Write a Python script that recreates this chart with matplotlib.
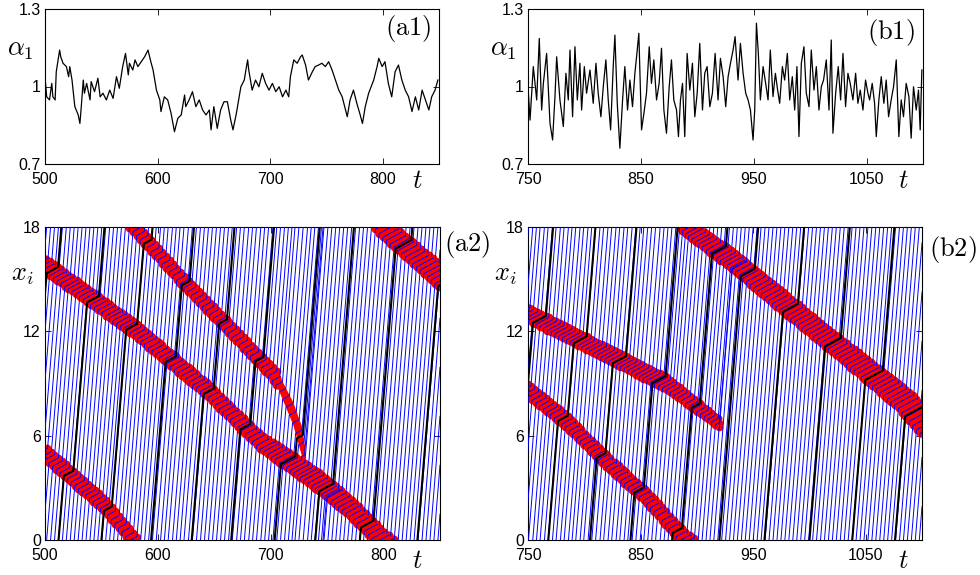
import numpy as np
import matplotlib
matplotlib.use("Agg")
import matplotlib.pyplot as plt

plt.rcParams['font.family'] = ['Liberation Sans', 'DejaVu Sans']
plt.rcParams['mathtext.fontset'] = 'cm'

# ---------------- data ----------------
a1_t = [500, 501.5, 504, 506, 507, 509, 510, 513, 514, 516,
        519, 521, 522, 524, 526.5, 529.5, 531, 532, 534, 535,
        537, 540, 541, 544, 547, 549, 551.5, 554.5, 557.5, 560.5,
        563.5, 566, 569, 571.5, 574, 575, 578, 580, 582.5, 585.5,
        588.5, 591.5, 594, 596, 599, 602, 603, 606, 609, 612,
        615, 618, 621, 624, 625, 628, 631, 634, 637, 640,
        643, 646, 647.5, 650, 653, 656, 659, 662, 665, 667,
        670, 672.5, 674, 677, 680, 681, 684, 687, 690, 693,
        696, 699, 702, 705, 708, 711, 714, 716.5, 718, 721,
        724, 727, 728.5, 731.5, 734, 737.5, 740, 743, 746, 749,
        752, 755, 758, 761, 764, 768.5, 771, 774, 777, 780,
        782, 784.5, 787.5, 792, 795, 796.5, 799.5, 802, 805, 808,
        811, 814, 817, 820, 823, 826, 829, 832, 835, 838,
        841, 843.5, 846.5, 849]
a1_alpha = [1.038, 0.96, 0.948, 1.012, 0.96, 0.948, 1.057, 1.141, 1.115, 1.09,
            1.077, 1.038, 1.077, 1.025, 0.922, 0.89, 0.857, 0.909, 1.025, 0.974,
            1.012, 0.948, 1.019, 0.98, 1.032, 0.96, 0.974, 0.948, 0.986, 0.954,
            1.038, 0.993, 1.077, 1.128, 1.045, 1.09, 1.064, 1.103, 1.077, 1.096,
            1.115, 1.141, 1.096, 1.064, 0.986, 0.948, 0.903, 0.96, 0.948, 0.896,
            0.825, 0.877, 0.89, 0.967, 0.922, 0.948, 0.98, 0.922, 0.948, 0.909,
            0.89, 0.909, 0.832, 0.922, 0.838, 0.909, 0.941, 0.941, 0.87, 0.832,
            0.896, 0.96, 0.999, 1.025, 1.103, 1.064, 0.986, 1.025, 0.999, 1.051,
            1.012, 0.986, 1.012, 0.98, 0.999, 0.96, 0.986, 0.96, 1.038, 1.103,
            1.09, 1.115, 1.122, 1.083, 1.025, 1.057, 1.077, 1.083, 1.09, 1.077,
            1.096, 1.064, 1.025, 0.986, 0.96, 0.883, 0.948, 0.986, 0.935, 0.89,
            0.857, 0.922, 0.974, 1.025, 1.077, 1.109, 1.077, 1.096, 1.012, 0.96,
            1.057, 1.083, 1.025, 0.986, 0.96, 0.903, 0.96, 0.909, 0.986, 0.948,
            0.909, 0.96, 0.986, 1.025]

b1_t = [750.0, 751.8, 754.7, 757.7, 760.0, 762.1, 763.6, 766.5, 769.5, 771.8,
        773.9, 775.4, 778.3, 781.3, 783.6, 785.7, 787.2, 789.5, 791.6, 793.7,
        796.0, 797.5, 799.9, 801.9, 804.9, 807.8, 810.2, 812.2, 814.6, 816.7,
        819.0, 821.1, 823.2, 825.5, 827.0, 829.1, 831.4, 833.8, 835.8, 838.2,
        840.3, 842.6, 844.7, 846.2, 848.2, 850.6, 852.7, 855.0, 857.4, 859.4,
        861.5, 863.9, 866.2, 868.3, 870.4, 872.7, 875.1, 877.1, 879.2, 881.6,
        883.3, 885.1, 886.9, 888.9, 891.0, 893.4, 895.7, 897.8, 899.9, 902.2,
        904.6, 906.6, 908.7, 911.1, 913.4, 915.8, 918.4, 920.5, 922.9, 925.2,
        927.3, 929.4, 931.7, 933.5, 936.1, 938.2, 940.6, 942.9, 945.0, 947.1,
        949.4, 950.9, 952.4, 954.1, 955.9, 958.3, 960.6, 962.7, 964.7, 967.1,
        969.2, 971.2, 973.0, 975.4, 977.4, 979.8, 981.9, 984.2, 986.3, 988.3,
        990.1, 992.2, 994.5, 996.6, 999.0, 1001.0, 1003.4, 1005.5, 1007.8, 1009.9,
        1011.9, 1014.3, 1016.7, 1018.7, 1020.2, 1022.6, 1024.9, 1027.0, 1029.1, 1031.4,
        1033.5, 1035.5, 1037.9, 1040.3, 1042.3, 1044.4, 1046.8, 1049.1, 1051.2, 1052.7,
        1055.0, 1057.1, 1058.6, 1060.9, 1063.0, 1065.3, 1067.4, 1069.5, 1071.8, 1073.9,
        1076.3, 1078.6, 1080.7, 1082.7, 1085.1, 1087.5, 1089.5, 1091.6, 1094.0, 1096.0,
        1097.5, 1099.0]
b1_alpha = [0.999, 0.87, 1.077, 0.948, 1.186, 0.909, 1.012, 1.128, 0.857, 0.793,
            0.961, 1.115, 0.948, 0.845, 1.051, 0.948, 1.141, 0.883, 1.154, 0.948,
            1.09, 0.909, 1.077, 0.974, 1.064, 0.935, 1.09, 0.974, 0.883, 0.999,
            1.103, 0.948, 0.832, 1.077, 1.199, 0.935, 0.761, 0.948, 1.077, 0.909,
            1.025, 0.922, 1.051, 1.115, 1.206, 0.832, 0.896, 0.974, 1.154, 1.012,
            1.103, 0.948, 1.012, 1.148, 0.909, 0.819, 0.999, 1.103, 0.948, 0.909,
            0.806, 0.948, 1.012, 0.806, 1.128, 0.986, 1.09, 0.883, 0.974, 1.167,
            0.909, 1.051, 1.077, 0.922, 0.974, 1.128, 0.948, 1.109, 1.038, 0.922,
            1.038, 1.09, 1.141, 1.193, 1.025, 1.167, 1.051, 0.974, 0.948, 0.909,
            0.793, 0.909, 1.245, 1.128, 0.948, 1.077, 1.012, 0.948, 1.141, 0.961,
            1.051, 0.986, 0.935, 1.077, 1.025, 1.128, 0.948, 1.038, 0.909, 1.077,
            0.806, 1.09, 1.154, 0.974, 0.922, 1.141, 0.986, 1.077, 0.909, 0.999,
            1.025, 1.103, 0.909, 1.18, 0.819, 0.974, 1.077, 0.948, 1.128, 0.922,
            1.051, 1.012, 0.948, 1.051, 0.935, 0.986, 0.909, 1.025, 0.974, 0.948,
            1.012, 0.935, 0.806, 0.948, 1.038, 0.935, 1.025, 0.883, 0.948, 0.999,
            1.103, 0.806, 0.948, 0.883, 1.012, 0.961, 0.8, 0.999, 0.909, 0.986,
            0.832, 1.064]

ring_len = 18.0
headway = 3.3          # time gap between vehicles leaving a jam
v_free = 0.8
v_jam = 0.035

# jam bands: centre line (t, x on the ring) and vertical half width
a2_band1_t = [500, 553, 579, 619.5, 696.5, 706, 719.5, 727, 730]
a2_band1_x = [5.0, 2.0, 0.0, 15.1, 9.95, 9.2, 7.3, 5.75, 4.6]
a2_band1_hw = [0.4, 0.4, 0.38, 0.36, 0.38, 0.45, 0.65, 0.85, 0.85]

a2_band2_t = [500, 578, 646, 690, 740.7, 770, 799, 849.6]
a2_band2_x = [15.8, 12.2, 8.5, 5.7, 3.45, 1.9, 0.0, 15.2]
a2_band2_hw = [0.43, 0.43, 0.43, 0.47, 0.55, 0.55, 0.6, 0.7]

b2_band3_t = [750, 784.5, 825, 855, 890, 931.4, 961, 1020, 1079, 1100]
b2_band3_x = [8.6, 6.8, 4.2, 2.5, 0.0, 16.1, 14.5, 11.4, 8.3, 6.9]
b2_band3_hw = [0.4, 0.4, 0.4, 0.4, 0.45, 0.55, 0.6, 0.6, 0.75, 0.95]

b2_band4_t = [750, 873, 920]
b2_band4_x = [13.0, 9.0, 6.7]
b2_band4_hw = [0.4, 0.4, 0.25]

# times at which the highlighted (black) vehicle passes x = 0
a2_black_launch = [474, 512, 550, 594, 630, 665, 703.5, 739.5, 779, 830]
b2_black_launch = [730, 768, 805, 841, 878, 920, 960, 1000, 1038, 1076]

# ---------------- figure ----------------
W, H = 980, 575
fig = plt.figure(figsize=(W / 100, H / 100), dpi=100)


def px_axes(x0, y0, x1, y1):
    return fig.add_axes([x0 / W, 1 - y1 / H, (x1 - x0) / W, (y1 - y0) / H])


def style(ax):
    ax.tick_params(direction='in', top=True, right=True, length=4, width=0.6,
                   labelsize=11.5, colors='black')
    ax.tick_params(axis='x', pad=5.5)
    ax.tick_params(axis='y', pad=3)
    for s in ax.spines.values():
        s.set_linewidth(0.8)


def unwrap(x):
    x = np.asarray(x, float)
    out = x.copy()
    for i in range(1, len(x)):
        d = (x[i] - x[i - 1] + ring_len / 2) % ring_len - ring_len / 2
        out[i] = out[i - 1] + d
    return out


def make_band(t, x, hw, open_left, open_right):
    return dict(t=np.asarray(t, float), xu=unwrap(x), hw=np.asarray(hw, float),
                open_left=open_left, open_right=open_right)


def band_state(b, t):
    """centre (unwrapped), vertical half width and local slope at time t."""
    bt, bx, bh = b['t'], b['xu'], b['hw']
    if t < bt[0]:
        if not b['open_left']:
            return None
        s = (bx[1] - bx[0]) / (bt[1] - bt[0])
        return bx[0] + s * (t - bt[0]), bh[0], s
    if t > bt[-1]:
        if not b['open_right']:
            return None
        s = (bx[-1] - bx[-2]) / (bt[-1] - bt[-2])
        return bx[-1] + s * (t - bt[-1]), bh[-1], s
    j = min(max(np.searchsorted(bt, t) - 1, 0), len(bt) - 2)
    s = (bx[j + 1] - bx[j]) / (bt[j + 1] - bt[j])
    return np.interp(t, bt, bx), np.interp(t, bt, bh), s


def in_bands(x, t, bands):
    inside = np.zeros(len(x), bool)
    shallow = np.zeros(len(x), bool)
    for b in bands:
        st = band_state(b, t)
        if st is None:
            continue
        xc, hw, s = st
        d = (np.nan_to_num(x) - xc + ring_len / 2) % ring_len - ring_len / 2
        hit = np.abs(d) < hw
        inside |= hit
        if abs(s) < 0.13:
            shallow |= hit
    return inside, shallow


def simulate_fleet(bandA, bands, t_start, t_end, dt=0.05):
    """Vehicles leave the upper edge of jam A every `headway`; each is
    followed for one lap, until it leaves jam A again."""
    launch = np.arange(t_start, t_end + headway, headway)
    n = len(launch)
    tt = np.arange(t_start, t_end + dt / 2, dt)
    x = np.full(n, np.nan)
    started = np.zeros(n, bool)
    done = np.zeros(n, bool)
    X = np.full((len(tt), n), np.nan)
    IN = np.zeros((len(tt), n), bool)
    for k, t in enumerate(tt):
        xa, hwa, _ = band_state(bandA, t)
        exit_line = xa + hwa + 0.02
        new = (~started) & (t >= launch)
        x[new] = exit_line
        started |= new
        done |= started & (x - exit_line >= ring_len)
        active = started & ~done
        inside, shallow = in_bands(x, t, bands)
        inside &= active
        X[k, active] = x[active]
        IN[k] = shallow & active
        x = np.where(active, x + np.where(inside, v_jam, v_free) * dt, x)
    return tt, X, IN


def simulate_laps(launch, bands, t_end, dt=0.05):
    launch = np.asarray(launch, float)
    n = len(launch)
    tt = np.arange(launch.min(), t_end + dt / 2, dt)
    x = np.zeros(n)
    X = np.full((len(tt), n), np.nan)
    IN = np.zeros((len(tt), n), bool)
    for k, t in enumerate(tt):
        active = (t >= launch) & (x < ring_len)
        inside, shallow = in_bands(x, t, bands)
        inside &= active
        X[k, active] = x[active]
        IN[k] = shallow & active
        x = np.where(active, x + np.where(inside, v_jam, v_free) * dt, x)
    return tt, X, IN


def wrapped_line(t, x):
    y = x % ring_len
    ok = ~np.isnan(y)
    t, y = t[ok], y[ok]
    jumps = np.where(np.abs(np.diff(y)) > ring_len / 2)[0] + 1
    return np.insert(t, jumps, np.nan), np.insert(y, jumps, np.nan)


def draw_panel(ax, bands, bandA, black_launch, t0, t1):
    tt, X, IN = simulate_fleet(bandA, bands, t0 - 70, t1)
    tk, XK, INK = simulate_laps(black_launch, bands, t1)

    # band body
    for b in bands:
        ta = t0 - 5 if b['open_left'] else b['t'][0]
        tb = t1 + 5 if b['open_right'] else b['t'][-1]
        tg = np.linspace(ta, tb, 800)
        st = [band_state(b, t) for t in tg]
        xc = np.array([s[0] for s in st])
        hw = np.array([s[1] for s in st])
        for k in range(-2, 3):
            ax.fill_between(tg, xc - hw + k * ring_len, xc + hw + k * ring_len,
                            color='red', lw=0, zorder=1)
    # red markers for vehicles inside jams
    step = 8
    for T_, X_, M_ in ((tt, X, IN), (tk, XK, INK)):
        Xs = X_[::step] % ring_len
        Ms = M_[::step]
        Ts = np.repeat(T_[::step, None], X_.shape[1], axis=1)
        ax.plot(Ts[Ms], Xs[Ms], 'o', color='red', ms=5.5, mec='none', zorder=2)
    for i in range(X.shape[1]):
        lt, lx = wrapped_line(tt, X[:, i])
        ax.plot(lt, lx, color='blue', lw=0.7, zorder=3)
    for i in range(XK.shape[1]):
        ax.plot(tk, XK[:, i], color='black', lw=1.5, zorder=4)
    ax.set_xlim(t0, t1)
    ax.set_ylim(0, ring_len)
    ax.set_yticks([0, 6, 12, 18])
    ax.set_yticklabels(['0', '6', '12', '18'])


ax_a1 = px_axes(45, 9, 439, 164)
ax_b1 = px_axes(528, 9, 923, 164)
ax_a2 = px_axes(45, 227, 440, 540)
ax_b2 = px_axes(528, 227, 922, 540)

for ax in (ax_a1, ax_b1, ax_a2, ax_b2):
    style(ax)

ax_a1.plot(a1_t, a1_alpha, color='black', lw=0.9)
ax_a1.set_xlim(500, 850)
ax_b1.plot(b1_t, b1_alpha, color='black', lw=0.9)
ax_b1.set_xlim(750, 1100)
for ax in (ax_a1, ax_b1):
    ax.set_ylim(0.7, 1.3)
    ax.set_yticks([0.7, 1.0, 1.3])
    ax.set_yticklabels(['0.7', '1', '1.3'])

a_b1 = make_band(a2_band1_t, a2_band1_x, a2_band1_hw, True, False)
a_b2 = make_band(a2_band2_t, a2_band2_x, a2_band2_hw, True, True)
b_b3 = make_band(b2_band3_t, b2_band3_x, b2_band3_hw, True, True)
b_b4 = make_band(b2_band4_t, b2_band4_x, b2_band4_hw, True, False)
draw_panel(ax_a2, [a_b1, a_b2], a_b2, a2_black_launch, 500, 850)
draw_panel(ax_b2, [b_b3, b_b4], b_b3, b2_black_launch, 750, 1100)

for ax in (ax_a1, ax_a2):
    ax.set_xticks([500, 600, 700, 800])
for ax in (ax_b1, ax_b2):
    ax.set_xticks([750, 850, 950, 1050])


def ftext(x, y, s, size=19, ha='center', va='center'):
    fig.text(x / W, 1 - y / H, s, fontsize=size, ha=ha, va=va, color='black')


ftext(20, 50, r'$\alpha_1$')
ftext(503, 50, r'$\alpha_1$')
ftext(417, 181, r'$t$')
ftext(903, 181, r'$t$')
ftext(417, 561, r'$t$')
ftext(903, 561, r'$t$')
ftext(22, 275, r'$x_i$')
ftext(505, 275, r'$x_i$')
ftext(431, 28, r'$\mathrm{(a1)}$', ha='right')
ftext(915, 32, r'$\mathrm{(b1)}$', ha='right')
ftext(444, 245, r'$\mathrm{(a2)}$', ha='left')
ftext(929, 250, r'$\mathrm{(b2)}$', ha='left')

fig.savefig('out.png', dpi=100)
